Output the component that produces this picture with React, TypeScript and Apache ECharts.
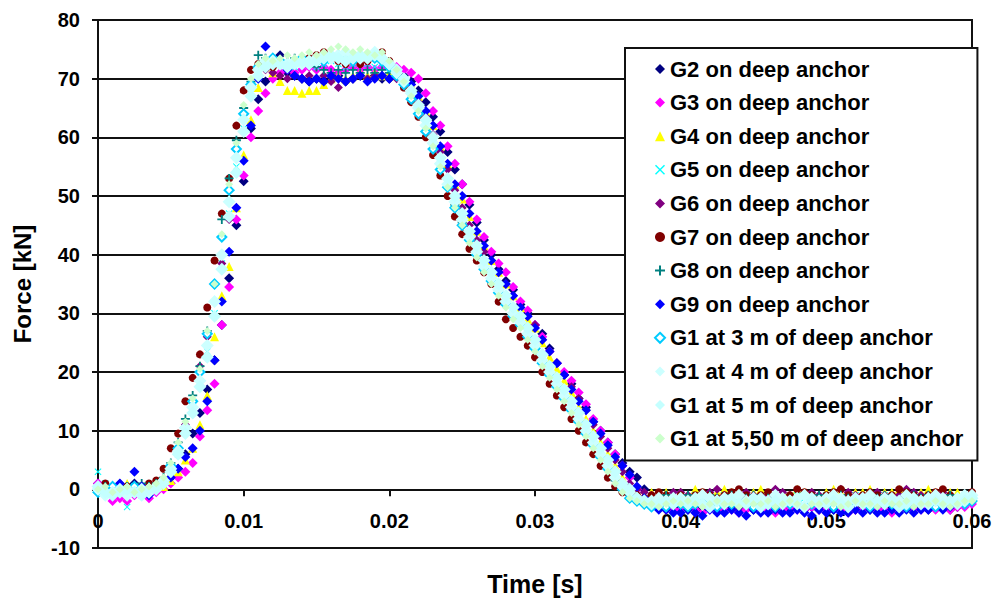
import React, { useEffect, useRef } from "react";
import * as echarts from "echarts";

// Time samples (ms)
const T_MS = [
  0, 0.5, 1, 1.5, 2, 2.5, 3, 3.5, 4, 4.5,
  5, 5.5, 6, 6.5, 7, 7.5, 8, 8.5, 9, 9.5,
  10, 10.5, 11, 11.5, 12, 12.5, 13, 13.5, 14, 14.5,
  15, 15.5, 16, 16.5, 17, 17.5, 18, 18.5, 19, 19.5,
  20, 20.5, 21, 21.5, 22, 22.5, 23, 23.5, 24, 24.5,
  25, 25.5, 26, 26.5, 27, 27.5, 28, 28.5, 29, 29.5,
  30, 30.5, 31, 31.5, 32, 32.5, 33, 33.5, 34, 34.5,
  35, 35.5, 36, 36.5, 37, 37.5, 38, 38.5, 39, 39.5,
  40, 40.5, 41, 41.5, 42, 42.5, 43, 43.5, 44, 44.5,
  45, 45.5, 46, 46.5, 47, 47.5, 48, 48.5, 49, 49.5,
  50, 50.5, 51, 51.5, 52, 52.5, 53, 53.5, 54, 54.5,
  55, 55.5, 56, 56.5, 57, 57.5, 58, 58.5, 59, 59.5,
  60,
];

const G2 = [
  1, 0.5, -1, -0.5, 0.5, 1, 0, -0.5, 0.5, 1,
  2, 3.5, 6, 9.5, 13, 17, 22, 28, 36, 45,
  52.5, 61.5, 66.5, 69.5, 73, 74, 71, 70.5, 70, 69.5,
  70, 69.5, 70, 70.5, 69.5, 70, 70.5, 70, 70.5, 70,
  70, 70.5, 70.5, 69.5, 68, 66, 63.5, 61, 57.5, 54.5,
  52, 48.5, 45.5, 42.5, 40, 37.5, 35.5, 34, 31.5, 30,
  28, 26.5, 24, 21.5, 19.5, 18, 15.5, 14, 11.5, 10,
  8, 6, 4.5, 3, 2, 0, -1.5, -2.5, -3, -3,
  -3, -3.5, -3, -3.5, -3, -3.5, -3.5, -3, -3.5, -3, -3.5, -3, -3.5, -3.5, -3, -3.5, -3, -3.5, -3, -3.5,
  -3, -3.5, -3, -3.5, -3.5, -3, -3.5, -3, -3.5, -3, -3.5, -3, -3.5, -3, -3.5, -3, -3, -3.5, -3, -2.5,
  -2,
];

const G3 = [
  1, -1, -2, -1.5, -2, -1, -0.5, -1.5, -0.5, 0,
  1, 2, 3, 4.5, 9, 13.5, 18, 28, 34.5, 46,
  53.5, 60, 64.5, 67.5, 70, 71, 71.5, 71, 71.5, 72,
  71.5, 72, 71.5, 71, 71.5, 72, 71.5, 72, 71.5, 72,
  72, 72, 71.5, 71, 70, 67.5, 64.5, 62, 58.5, 55.5,
  52, 49, 46, 43, 40.5, 38.5, 37, 34.5, 32, 30.5,
  28, 26, 23.5, 21.5, 20, 18.5, 16.5, 14.5, 12, 10,
  8, 6, 4, 2, 0, -1.5, -2.5, -3, -3.5, -3.5,
  -3.5, -3, -3.5, -4, -3.5, -3, -3.5, -3.5, -4, -3.5, -3, -3.5, -3.5, -4, -3.5, -3, -3.5, -3.5, -3, -3.5,
  -3.5, -3, -3.5, -4, -3.5, -3.5, -3, -3.5, -3.5, -4, -3.5, -3, -3.5, -3.5, -3, -3.5, -3, -3.5, -3, -3,
  -2.5,
];

const G4 = [
  0, 0.5, -0.5, 0, 1, 0.5, -0.5, 0, 0.5, 0.5,
  1.5, 3, 5, 7, 11, 16, 26, 33, 38, 48,
  57, 63, 68.5, 72, 71, 69.5, 68, 68, 67.5, 68,
  68, 69, 70, 70.5, 70, 70.5, 71, 70.5, 71, 70.5,
  71, 70.5, 70, 69, 67, 64.5, 62, 58.5, 55.5, 52,
  49.5, 46.5, 44, 41.5, 39, 37, 35, 33, 31, 29,
  27.5, 25, 22.5, 20.5, 18.5, 16.5, 14, 12, 10, 8,
  6, 4, 2, 0.5, -0.5, -1, -0.5, -1, -0.5, -1,
  -0.5, -1, 0, -0.5, -1, -0.5, 0, -0.5, -1, -0.5, -0.5, 0, -1, -0.5, -0.5, -1, 0, -0.5, -0.5, -1,
  -0.5, 0, -0.5, -1, -0.5, -0.5, 0, -1, -0.5, -0.5, 0, -0.5, -1, -0.5, 0, -0.5, -1, -0.5, -0.5, -1,
  -1.5,
];

const G5 = [
  3, 1, 0, -0.5, -3, 0.5, -1, 0, 0.5, 1,
  3, 6, 10, 14, 18, 23.5, 30, 38.5, 47, 55,
  61.5, 67.5, 71, 72.5, 73, 72.5, 72, 72, 72.5, 72.5,
  72, 72.5, 73, 72.5, 72, 72.5, 73, 72.5, 72, 72.5,
  71.5, 71, 69.5, 67.5, 65, 62.5, 59, 56, 52.5, 49,
  46, 43, 40.5, 38, 36, 34, 32, 30, 28.5, 26.5,
  24.5, 22, 20, 18, 16, 14, 12, 10, 8, 6,
  4, 2, 0.5, -1, -2, -2, -2.5, -2, -1.5, -2,
  -1.5, -2, -1, -1.5, -2, -1.5, -1, -2, -1.5, -1, -1.5, -2, -1, -1.5, -1.5, -2, -1, -1.5, -2, -1.5,
  -1, -1.5, -2, -1.5, -1, -1.5, -2, -1.5, -1, -1.5, -2, -1, -1.5, -1.5, -2, -1, -1.5, -2, -1.5, -1,
  -1,
];

const G6 = [
  0, -0.5, 0.5, 1, 0, -0.5, 0.5, 0, 1, 1.5,
  3.5, 7, 11, 15, 21, 26, 32, 38.5, 46, 54,
  61, 67, 70.5, 71.5, 71, 70.5, 70, 70.5, 70, 70.5,
  70, 70.5, 69.5, 68.5, 69.5, 70, 70.5, 70, 70.5, 70.5,
  70, 70, 69.5, 68, 66, 63.5, 60.5, 57.5, 54.5, 51,
  48, 45, 42.5, 40.5, 39, 37, 35, 33, 31, 29.5,
  28, 25.5, 23.5, 21.5, 19.5, 17.5, 15.5, 13.5, 11, 9,
  7, 5, 3, 1, 0, -0.5, -1, -1.5, -1, -0.5,
  -0.5, -1, -1.5, -1, -0.5, 0, -1, -1.5, -1, -0.5, -1, -1.5, -1, 0, -0.5, -1, -1.5, -1, -0.5, -1,
  -1.5, -1, 0, -0.5, -1, -1.5, -1, -0.5, -1, -1.5, -1, 0, -0.5, -1, -1.5, -1, -0.5, -1, -1.5, -1,
  -1,
];

const G7 = [
  0.5, 1, 0, -0.5, 0.5, 0, 0.5, 1, 1.5, 3.5,
  7, 9.5, 15, 19, 23, 31, 39, 47, 53, 62,
  68, 71.5, 72.5, 73, 72, 72.5, 72, 72.5, 73, 73.5,
  74, 74.5, 73.5, 73, 72.5, 73, 72.5, 73, 73.5, 74.5,
  73, 71, 68.5, 66, 63.5, 60, 57, 53.5, 50, 46.5,
  43.5, 41, 39, 37, 35, 32, 29, 27.5, 26, 24.5,
  22.5, 20, 18, 16, 14, 12, 10, 8, 6, 4,
  2, 0.5, -0.5, -1, -1, -1.5, -1, -0.5, -1, -1.5,
  -1, -1.5, -1, -0.5, -1, -1.5, -1, -0.5, 0, -1, -1.5, -1, -0.5, -1, -1.5, -1, 0, -0.5, -1, -1.5,
  -1, -0.5, 0, -1, -1.5, -1, -0.5, -1, -1.5, -1, 0, -0.5, -1, -1.5, -1, -0.5, 0, -1, -1.5, -1,
  -0.5,
];

const G8 = [
  0, 0.5, -0.5, 0, 0.5, 0, 1, 0.5, 1, 2,
  4.5, 8, 12, 16, 21, 27, 35, 46, 53, 59.5,
  65, 69.5, 74, 73.5, 73, 72.5, 73, 73.5, 73, 72.5,
  72, 71.5, 71, 71.5, 71, 71.5, 71, 71.5, 71, 71.5,
  71, 70.5, 69.5, 67.5, 65, 62, 59, 55.5, 52, 48.5,
  45.5, 42.5, 40, 37.5, 35.5, 33.5, 31.5, 30, 28, 26,
  24, 21.5, 19.5, 17.5, 15.5, 13.5, 11.5, 9.5, 7.5, 5.5,
  3.5, 1.5, 0, -1, -1.5, -1.5, -2, -1.5, -1, -1.5,
  -1.5, -1, -2, -1.5, -1, -1.5, -2, -1, -1.5, -1.5, -1, -2, -1.5, -1, -1.5, -2, -1.5, -1, -1.5, -1,
  -2, -1.5, -1, -1.5, -1.5, -2, -1, -1.5, -1, -1.5, -2, -1.5, -1, -1.5, -1, -2, -1.5, -1, -1.5, -2,
  -1.5,
];

const G9 = [
  0.5, -1, 0, 1, -0.5, 3, 0.5, -1, 0, 1,
  2, 3.5, 5.5, 7, 10, 15, 22, 32, 40.5, 48,
  56, 62, 70, 75.5, 73.5, 73, 71.5, 70.5, 70, 69.5,
  70, 69.5, 70.5, 70, 69.5, 70, 70.5, 69.5, 70, 70.5,
  70, 70.5, 70, 69, 67, 64.5, 62, 58.5, 55.5, 52,
  50, 47, 44, 41.5, 39, 37, 35, 33, 31, 29.5,
  27.5, 25.5, 23.5, 21.5, 19.5, 17, 15, 13.5, 11.5, 9.5,
  7.5, 5.5, 4, 2.5, 0.5, -1.5, -2.5, -3.5, -3.5, -4,
  -4, -3.5, -4, -4.5, -3.5, -4, -4, -3.5, -4, -4.5, -3.5, -4, -4, -3.5, -4, -4, -3.5, -4, -4.5, -3.5,
  -4, -3.5, -4, -4, -3.5, -4, -3.5, -4, -4, -3.5, -4, -3.5, -4, -3.5, -3.5, -3, -3.5, -3, -2.5, -2,
  -1.5,
];

const G1_3M = [
  -0.5, 0, 0.5, -0.5, 0, 0.5, 0, -0.5, 0.5, 1.5,
  4, 7, 10.5, 15, 20, 26.5, 35, 43, 51, 58,
  64, 69, 72, 73, 73.5, 73, 72.5, 73, 73.5, 73,
  73.5, 73, 73.5, 74, 73.5, 73, 73.5, 74, 73.5, 73,
  72, 70.5, 69, 66.5, 64, 61, 58, 54.5, 51.5, 48,
  45, 42.5, 40, 37.5, 35.5, 33.5, 31.5, 29.5, 28, 26,
  24, 21.5, 19.5, 17.5, 15.5, 13.5, 11.5, 9.5, 7.5, 5.5,
  3.5, 2, 0, -1.5, -2, -2.5, -3, -2.5, -3, -2.5,
  -2.5, -3, -2.5, -2, -2.5, -3, -2.5, -2.5, -2, -2.5, -3, -2.5, -2.5, -3, -2, -2.5, -2.5, -3, -2.5, -2,
  -2.5, -3, -2.5, -2.5, -2, -2.5, -3, -2.5, -2, -2.5, -2.5, -3, -2.5, -2, -2.5, -3, -2.5, -2.5, -2, -2.5,
  -2,
];

const G1_4M = [
  0, -1, -0.5, 0, -1, -0.5, 0, -0.5, 0.5, 1.5,
  3.5, 6.5, 10.5, 14, 18.5, 24.5, 32, 40, 49, 56.5,
  63, 68.5, 71.5, 73, 73, 72.5, 72.5, 73, 72.5, 73,
  73.5, 74, 73.5, 74, 74.5, 74, 73.5, 74, 74.5, 73.5,
  72.5, 71, 69.5, 67.5, 65, 62, 59, 55.5, 52, 49,
  46, 43, 40.5, 38, 36, 34, 32, 30, 28.5, 26.5,
  24.5, 22, 20, 18, 16, 14, 12, 10, 8, 6,
  4, 2, 0.5, -0.5, -1.5, -2, -2, -1.5, -2, -1.5,
  -1.5, -2, -1.5, -1, -1.5, -2, -1.5, -1.5, -1, -2, -1.5, -1.5, -2, -1, -1.5, -2, -1.5, -1, -1.5, -2,
  -1.5, -1, -1.5, -2, -1.5, -1.5, -1, -2, -1.5, -1.5, -2, -1, -1.5, -2, -1.5, -1, -1.5, -2, -1.5, -1,
  -1,
];

const G1_5M = [
  0.5, -0.5, -1, -0.5, 0, -0.5, -1, 0, 0, 1,
  3, 6, 9.5, 13, 17.5, 22.5, 29.5, 37.5, 46.5, 54,
  61, 67, 70.5, 72, 72.5, 72.5, 72, 72.5, 73, 72.5,
  73, 73.5, 74, 73.5, 73, 73.5, 74, 73.5, 74, 73.5,
  72.5, 71.5, 70, 68, 65.5, 63, 60, 56.5, 53, 50,
  47, 44, 41.5, 39, 37, 35, 33, 31, 29.5, 27.5,
  25.5, 23, 21, 19, 17, 15, 13, 11, 9, 7,
  5, 3, 1, 0, -1.5, -2, -2.5, -2.5, -2, -2.5,
  -2, -2.5, -2, -2.5, -3, -2, -2.5, -2, -2.5, -2.5, -2, -3, -2.5, -2, -2.5, -2, -2.5, -3, -2, -2.5,
  -2.5, -2, -2.5, -3, -2, -2.5, -2.5, -2, -2.5, -2, -3, -2.5, -2, -2.5, -2.5, -2, -2.5, -2, -2.5, -2,
  -1.5,
];

const G1_550M = [
  0, 0.5, -0.5, 0, 0.5, -0.5, 0, 0.5, 1, 2,
  4.5, 8, 11.5, 15.5, 20.5, 27, 35, 43.5, 52, 59,
  65.5, 70, 72.5, 73.5, 73, 73.5, 74, 73.5, 74, 74.5,
  74, 74.5, 75, 75.5, 75, 74.5, 75, 74.5, 74, 74.5,
  73, 71.5, 69.5, 67, 64.5, 61.5, 58.5, 55, 51.5, 48,
  45, 42, 39.5, 37, 35, 33, 31, 29, 27.5, 25.5,
  23.5, 21, 19, 17, 15, 13, 11, 9, 7, 5,
  3, 1, -0.5, -1.5, -2, -2.5, -2.5, -3, -2.5, -2,
  -2.5, -2, -2.5, -3, -2.5, -2, -2.5, -2.5, -3, -2, -2.5, -2.5, -2, -3, -2.5, -2, -2.5, -3, -2.5, -2.5,
  -2, -2.5, -3, -2.5, -2, -2.5, -2.5, -3, -2, -2.5, -2.5, -2, -3, -2.5, -2.5, -2, -2.5, -3, -2.5, -2,
  -2,
];

const SERIES_NAMES = [
  "G2 on deep anchor",
  "G3 on deep anchor",
  "G4 on deep anchor",
  "G5 on deep anchor",
  "G6 on deep anchor",
  "G7 on deep anchor",
  "G8 on deep anchor",
  "G9 on deep anchor",
  "G1 at 3 m of deep anchor",
  "G1 at 4 m of deep anchor",
  "G1 at 5 m of deep anchor",
  "G1 at 5,50 m of deep anchor",
];
const SERIES_VALUES = [G2, G3, G4, G5, G6, G7, G8, G9, G1_3M, G1_4M, G1_5M, G1_550M];

const X_TICKS = [0, 0.01, 0.02, 0.03, 0.04, 0.05, 0.06];
const Y_TICKS = [-10, 0, 10, 20, 30, 40, 50, 60, 70, 80];

const PLUS = "path://M4,0H6V4H10V6H6V10H4V6H0V4H4Z";
const CROSS = "path://M1,0L5,4L9,0L10,1L6,5L10,9L9,10L5,6L1,10L0,9L4,5L0,1Z";

const STYLES = [
  { color: "#000080", symbol: "diamond", size: 10 },
  { color: "#FF00FF", symbol: "diamond", size: 10 },
  { color: "#FFFF00", symbol: "triangle", size: 9 },
  { color: "#00FFFF", symbol: CROSS, size: 7 },
  { color: "#800080", symbol: "diamond", size: 9 },
  { color: "#800000", symbol: "circle", size: 8 },
  { color: "#008080", symbol: PLUS, size: 9 },
  { color: "#0000FF", symbol: "diamond", size: 10 },
  { color: "#00CCFF", symbol: "emptyDiamond", size: 9 },
  { color: "#CCFFFF", symbol: "diamond", size: 13 },
  { color: "#C4FFFF", symbol: "diamond", size: 13 },
  { color: "#CCFFCC", symbol: "diamond", size: 8 },
];

const FONT = "'Liberation Sans', Arial, sans-serif";

// plot area in pixels
const GRID_TOP = 20;
const GRID_BOTTOM = 53;
const PLOT_H = 601 - GRID_TOP - GRID_BOTTOM;

export default function App() {
  const ref = useRef<HTMLDivElement>(null);
  useEffect(() => {
    if (!ref.current) return;
    const chart = echarts.init(ref.current, null, { renderer: "svg" });
    const yMin = Y_TICKS[0];
    const yMax = Y_TICKS[Y_TICKS.length - 1];
    // move the x axis up from the plot bottom to the y = 0 line
    const zeroOffset = -PLOT_H * ((0 - yMin) / (yMax - yMin));
    const series = SERIES_NAMES.map((name, k) => ({
      name,
      type: "scatter",
      symbol: STYLES[k].symbol,
      symbolSize: STYLES[k].size,
      itemStyle: { color: STYLES[k].color, opacity: 1 },
      emphasis: { disabled: true },
      data: T_MS.map((t, i) => [t / 1000, SERIES_VALUES[k][i]]),
    }));
    chart.setOption({
      animation: false,
      backgroundColor: "#ffffff",
      grid: {
        left: 98,
        right: 20,
        top: GRID_TOP,
        bottom: GRID_BOTTOM,
        containLabel: false,
        outerBoundsMode: "none",
        show: true,
        borderColor: "#111",
        borderWidth: 2,
        backgroundColor: "transparent",
      },
      xAxis: {
        type: "value",
        position: "bottom",
        offset: zeroOffset,
        min: X_TICKS[0],
        max: X_TICKS[X_TICKS.length - 1],
        interval: 0.01,
        name: "Time [s]",
        nameLocation: "middle",
        nameGap: 82,
        nameTextStyle: { fontSize: 25, fontWeight: "bold", fontFamily: FONT, color: "#000" },
        axisLine: { show: true, onZero: false, lineStyle: { color: "#111", width: 2 } },
        axisTick: { show: true, inside: false, length: 7, lineStyle: { color: "#111", width: 2 } },
        axisLabel: {
          margin: 22,
          fontSize: 20,
          fontWeight: "bold",
          fontFamily: FONT,
          color: "#000",
          formatter: (v: number) => (v === 0 ? "0" : String(+v.toFixed(2))),
        },
        splitLine: { show: false },
      },
      yAxis: {
        type: "value",
        min: yMin,
        max: yMax,
        interval: 10,
        name: "Force [kN]",
        nameLocation: "middle",
        nameRotate: 90,
        nameGap: 64,
        nameTextStyle: { fontSize: 24, fontWeight: "bold", fontFamily: FONT, color: "#000" },
        axisLine: { show: true, onZero: false, lineStyle: { color: "#111", width: 2 } },
        axisTick: { show: true, inside: false, length: 6, lineStyle: { color: "#111", width: 2 } },
        axisLabel: { margin: 18, fontSize: 20, fontWeight: "bold", fontFamily: FONT, color: "#000" },
        splitLine: { show: true, lineStyle: { color: "#111", width: 2 } },
      },
      legend: {
        orient: "vertical",
        left: 625,
        top: 48,
        padding: [10, 14, 11, 29],
        itemWidth: 10,
        itemHeight: 10,
        itemGap: 11.6,
        backgroundColor: "#ffffff",
        borderColor: "#111",
        borderWidth: 2,
        borderRadius: 0,
        selectedMode: false,
        textStyle: { fontSize: 22, fontWeight: "bold", fontFamily: FONT, color: "#000", lineHeight: 22 },
        data: SERIES_NAMES,
      },
      series,
    });
    return () => chart.dispose();
  }, []);
  return (
    <div
      ref={ref}
      style={{ position: "absolute", left: 0, top: 0, width: 992, height: 601, background: "#fff" }}
    />
  );
}
